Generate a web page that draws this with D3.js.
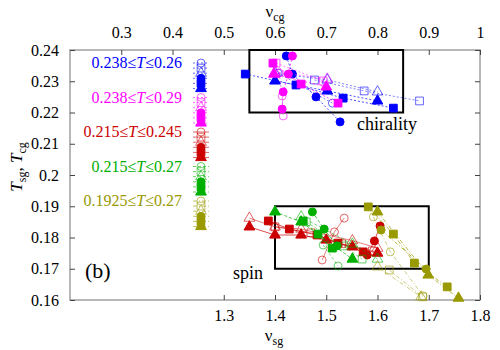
<!DOCTYPE html>
<html>
<head>
<meta charset="utf-8">
<script src="https://cdn.jsdelivr.net/npm/d3@7"></script>
<style>
  body { margin: 0; background: #fff; }
  svg text { font-family: "Liberation Serif", "Times New Roman", Times, "DejaVu Serif", serif !important; }
</style>
</head>
<body>
<svg id="chart" width="500" height="350"></svg>
<script>
var width = 500, height = 350;
var plot = {left: 70, right: 480, top: 50, bottom: 300};
var serif = '"Liberation Serif", "Times New Roman", Times, "DejaVu Serif", serif';

// tick values
var tTicks = [0.16, 0.17, 0.18, 0.19, 0.2, 0.21, 0.22, 0.23, 0.24];
var sgTicks = [1.3, 1.4, 1.5, 1.6, 1.7, 1.8];
var cgTicks = [0.3, 0.4, 0.5, 0.6, 0.7, 0.8, 0.9, 1];

// temperature ranges (legend)
var rangeLabels = ["0.238≤T≤0.26", "0.238≤T≤0.29", "0.215≤T≤0.245", "0.215≤T≤0.27", "0.1925≤T≤0.27"];
var colors = ["#0000ff", "#ff00ff", "#cc0000", "#00b000", "#999900"];
var dashes = ["2,2", "2,2", null, "3,2", "4,2,1,2"];
var legendOrder = [["circle", true], ["square", true], ["triangle", true],
                   ["circle", false], ["square", false], ["triangle", false]];

// chirality: [nu_cg, T]
var blueData = [
  {sym: "square", open: false, pts: [[0.542, 0.2323], [0.641, 0.2288], [0.733, 0.2246], [0.831, 0.2214]]},
  {sym: "triangle", open: false, pts: [[0.600, 0.2301], [0.702, 0.2269], [0.800, 0.2237]]},
  {sym: "circle", open: false, pts: [[0.622, 0.2381], [0.634, 0.2323], [0.680, 0.2250], [0.727, 0.2170]]},
  {sym: "square", open: true, pts: [[0.677, 0.2304], [0.774, 0.2269], [0.882, 0.2237]]},
  {sym: "triangle", open: true, pts: [[0.600, 0.2326], [0.702, 0.2304], [0.800, 0.2266]]},
  {sym: "circle", open: true, pts: [[0.606, 0.2326], [0.712, 0.2230]]}
];
var magentaData = [
  {sym: "square", open: false, pts: [[0.596, 0.2358], [0.651, 0.2291], [0.723, 0.2230]]},
  {sym: "circle", open: false, pts: [[0.634, 0.2381], [0.626, 0.2323], [0.616, 0.2266], [0.614, 0.2211]]},
  {sym: "triangle", open: false, pts: [[0.598, 0.2323], [0.700, 0.2282]]},
  {sym: "square", open: true, pts: [[0.602, 0.2358], [0.694, 0.2301]]},
  {sym: "circle", open: true, pts: [[0.608, 0.2326], [0.614, 0.2253], [0.616, 0.2189]]},
  {sym: "triangle", open: true, pts: [[0.600, 0.2330], [0.702, 0.2307]]}
];

// spin: [nu_sg, T]
var redData = [
  {sym: "triangle", open: false, pts: [[1.350, 0.1834], [1.400, 0.1808], [1.451, 0.1808], [1.500, 0.1792], [1.551, 0.1770], [1.600, 0.1750]]},
  {sym: "triangle", open: true, pts: [[1.350, 0.1862], [1.400, 0.1834], [1.451, 0.1827], [1.551, 0.1790], [1.600, 0.1766]]},
  {sym: "square", open: false, pts: [[1.387, 0.1853], [1.428, 0.1827], [1.482, 0.1808], [1.523, 0.1782], [1.572, 0.1754]]},
  {sym: "square", open: true, pts: [[1.400, 0.1834], [1.470, 0.1815], [1.530, 0.1780], [1.590, 0.1757]]},
  {sym: "circle", open: false, pts: [[1.580, 0.1744], [1.594, 0.1789], [1.605, 0.1837]]},
  {sym: "circle", open: true, pts: [[1.492, 0.1728], [1.516, 0.1818], [1.535, 0.1862]]}
];
var greenData = [
  {sym: "triangle", open: false, pts: [[1.400, 0.1882], [1.451, 0.1850], [1.551, 0.1731]]},
  {sym: "triangle", open: true, pts: [[1.451, 0.1866], [1.551, 0.1779], [1.600, 0.1731]]},
  {sym: "square", open: false, pts: [[1.455, 0.1853], [1.484, 0.1811], [1.512, 0.1766]]},
  {sym: "square", open: true, pts: [[1.461, 0.1850], [1.533, 0.1773], [1.570, 0.1731]]},
  {sym: "circle", open: false, pts: [[1.473, 0.1882], [1.496, 0.1827], [1.521, 0.1773]]},
  {sym: "circle", open: true, pts: [[1.494, 0.1776], [1.523, 0.1709]]}
];
var oliveData = [
  {sym: "square", open: false, pts: [[1.582, 0.1898], [1.631, 0.1811], [1.672, 0.1718], [1.736, 0.1642]]},
  {sym: "triangle", open: false, pts: [[1.600, 0.1882], [1.699, 0.1680], [1.758, 0.1606]]},
  {sym: "circle", open: false, pts: [[1.607, 0.1824], [1.695, 0.1699]]},
  {sym: "circle", open: true, pts: [[1.592, 0.1866], [1.625, 0.1754], [1.689, 0.1613]]},
  {sym: "triangle", open: true, pts: [[1.600, 0.1706], [1.685, 0.1610]]},
  {sym: "square", open: true, pts: [[1.623, 0.1696], [1.688, 0.1610]]}
];

// fit windows
var chiralBox = [[0.55, 0.85], [0.22, 0.24]];
var spinBox = [[1.4, 1.7], [0.17, 0.19]];

var svg = d3.select("#chart").attr("font-family", serif);

var xSg = d3.scaleLinear().domain([1.0, 1.8]).range([plot.left, plot.right]);
var xCg = d3.scaleLinear().domain([0.2, 1.0]).range([plot.left, plot.right]);
var y = d3.scaleLinear().domain([0.16, 0.24]).range([plot.bottom, plot.top]);

var symSize = {circle: 50, square: 60, triangle: 50};
var symType = {circle: d3.symbolCircle, square: d3.symbolSquare, triangle: d3.symbolTriangle};

// frame
svg.append("rect")
  .attr("x", plot.left).attr("y", plot.top)
  .attr("width", plot.right - plot.left).attr("height", plot.bottom - plot.top)
  .attr("fill", "none").attr("stroke", "#a0a0a0").attr("stroke-width", 1.5);

function styleAxis(g) {
  g.attr("font-family", serif).attr("font-size", 16);
  g.select(".domain").remove();
  g.selectAll(".tick line").attr("stroke", "#444");
  g.selectAll(".tick text").attr("fill", "#000");
}

svg.append("g").attr("transform", "translate(" + plot.left + ",0)")
  .call(d3.axisLeft(y).tickValues(tTicks).tickSizeInner(-5).tickSizeOuter(0).tickPadding(11)
    .tickFormat(d3.format("")))
  .call(styleAxis);
svg.append("g").attr("transform", "translate(" + plot.right + ",0)")
  .call(d3.axisRight(y).tickValues(tTicks).tickSizeInner(-5).tickSizeOuter(0).tickFormat(""))
  .call(styleAxis);
svg.append("g").attr("transform", "translate(0," + plot.bottom + ")")
  .call(d3.axisBottom(xSg).tickValues(sgTicks).tickSizeInner(-5).tickSizeOuter(0).tickPadding(10)
    .tickFormat(d3.format("")))
  .call(styleAxis);
svg.append("g").attr("transform", "translate(0," + plot.top + ")")
  .call(d3.axisTop(xCg).tickValues(cgTicks).tickSizeInner(-5).tickSizeOuter(0).tickPadding(12)
    .tickFormat(d3.format("")))
  .call(styleAxis);

// axis titles
var tx = svg.append("text").attr("x", 274).attr("y", 341).attr("text-anchor", "middle").attr("font-size", 17);
tx.append("tspan").text("ν");
tx.append("tspan").attr("dy", 4).attr("font-size", 12).text("sg");

var tt = svg.append("text").attr("x", 275).attr("y", 17).attr("text-anchor", "middle").attr("font-size", 17);
tt.append("tspan").text("ν");
tt.append("tspan").attr("dy", 4).attr("font-size", 12).text("cg");

var ty = svg.append("text").attr("transform", "translate(22,167) rotate(-90)")
  .attr("text-anchor", "middle").attr("font-size", 17);
ty.append("tspan").attr("font-style", "italic").text("T");
ty.append("tspan").attr("dy", 4).attr("font-size", 12).text("sg");
ty.append("tspan").attr("dy", -4).text(", ");
ty.append("tspan").attr("font-style", "italic").text("T");
ty.append("tspan").attr("dy", 4).attr("font-size", 12).text("cg");

// boxes
function drawBox(xs, b) {
  svg.append("rect")
    .attr("x", xs(b[0][0])).attr("y", y(b[1][1]))
    .attr("width", xs(b[0][1]) - xs(b[0][0])).attr("height", y(b[1][0]) - y(b[1][1]))
    .attr("fill", "none").attr("stroke", "#000").attr("stroke-width", 2);
}
drawBox(xCg, chiralBox);
drawBox(xSg, spinBox);

svg.append("text").attr("x", 357).attr("y", 130).attr("font-size", 18).text("chirality");
svg.append("text").attr("x", 233).attr("y", 279).attr("font-size", 18).text("spin");
svg.append("text").attr("x", 85).attr("y", 278).attr("font-size", 22).text("(b)");

// data series
var line = d3.line();
function drawGroup(data, xs, gi) {
  var g = svg.append("g");
  data.forEach(function(s) {
    var pts = s.pts.map(function(p) { return [xs(p[0]), y(p[1])]; });
    g.append("path")
      .attr("d", line(pts))
      .attr("fill", "none")
      .attr("stroke", colors[gi])
      .attr("stroke-opacity", s.open ? 0.5 : 0.7)
      .attr("stroke-width", 1)
      .attr("stroke-dasharray", dashes[gi]);
  });
  data.forEach(function(s) {
    g.selectAll(null).data(s.pts).enter().append("path")
      .attr("transform", function(p) { return "translate(" + xs(p[0]) + "," + y(p[1]) + ")"; })
      .attr("d", d3.symbol().type(symType[s.sym]).size(symSize[s.sym]))
      .attr("fill", s.open ? "none" : colors[gi])
      .attr("stroke", colors[gi])
      .attr("stroke-opacity", s.open ? 0.6 : 1)
      .attr("stroke-width", 1);
  });
}
drawGroup(blueData, xCg, 0);
drawGroup(magentaData, xCg, 1);
drawGroup(redData, xSg, 2);
drawGroup(greenData, xSg, 3);
drawGroup(oliveData, xSg, 4);

// legend
var legX = 201, legTextX = 182, legY0 = 63, legStep = 34.5, symStep = 5.1;
rangeLabels.forEach(function(lab, i) {
  var cy = legY0 + i * legStep;
  var parts = lab.split("T");
  var t = svg.append("text").attr("x", legTextX).attr("y", cy + 5)
    .attr("text-anchor", "end").attr("fill", colors[i]).attr("font-size", 16);
  t.append("tspan").text(parts[0]);
  t.append("tspan").attr("font-style", "italic").text("T");
  t.append("tspan").text(parts[1]);

  legendOrder.forEach(function(o, k) {
    var yy = cy + k * symStep;
    svg.append("line")
      .attr("x1", legX - 8).attr("x2", legX + 8).attr("y1", yy).attr("y2", yy)
      .attr("stroke", colors[i]).attr("stroke-opacity", 0.6).attr("stroke-width", 1)
      .attr("stroke-dasharray", dashes[i]);
    svg.append("path")
      .attr("transform", "translate(" + legX + "," + yy + ")")
      .attr("d", d3.symbol().type(symType[o[0]]).size(symSize[o[0]]))
      .attr("fill", o[1] ? "none" : colors[i])
      .attr("stroke", colors[i])
      .attr("stroke-opacity", o[1] ? 0.6 : 1)
      .attr("stroke-width", 1);
  });
});
</script>
</body>
</html>
